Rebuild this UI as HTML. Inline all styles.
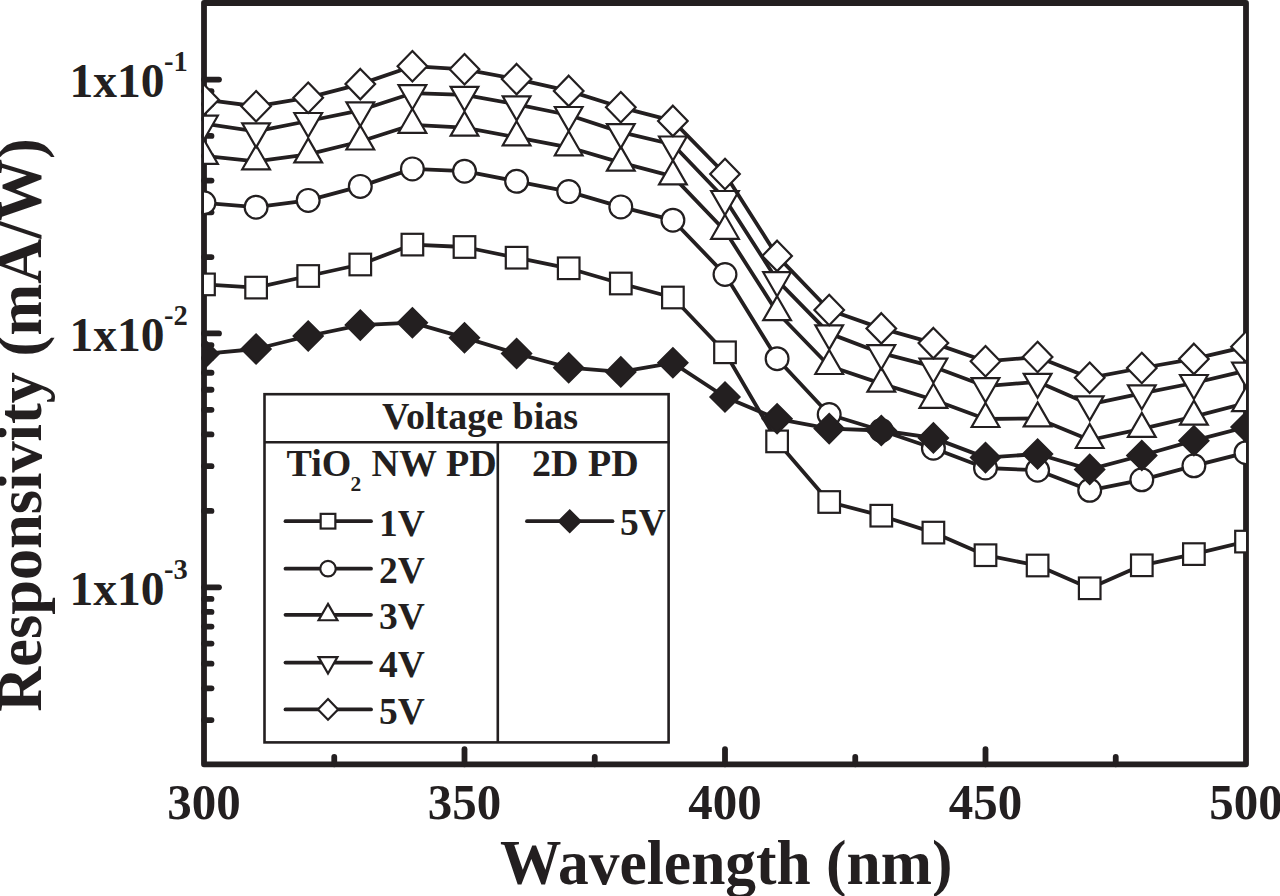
<!DOCTYPE html>
<html><head><meta charset="utf-8"><title>Responsivity</title>
<style>
html,body{margin:0;padding:0;background:#fff;}
body{width:1280px;height:896px;overflow:hidden;}
svg{display:block;}
text{font-family:"Liberation Serif",serif;font-weight:bold;fill:#231f20;}
.m{fill:#fff;stroke:#231f20;stroke-width:2.2;stroke-linejoin:miter;}
.mf{fill:#231f20;stroke:#231f20;stroke-width:2.2;stroke-linejoin:miter;}
.ln{fill:none;stroke:#231f20;stroke-width:3.8;stroke-linejoin:round;stroke-linecap:round;}
.ax{fill:none;stroke:#231f20;stroke-width:5.8;stroke-linecap:round;stroke-linejoin:round;}
.tk{stroke:#231f20;stroke-width:5.8;stroke-linecap:round;}
.lg{fill:none;stroke:#231f20;stroke-width:2.6;}
</style></head><body>
<svg width="1280" height="896" viewBox="0 0 1280 896">
<rect width="1280" height="896" fill="#fff"/>
<defs><clipPath id="pc"><rect x="204" y="3" width="1042" height="761.3"/></clipPath></defs>

<path d="M204 3 H1246 V764.3 H204 Z" class="ax"/>
<line x1="204" y1="79.6" x2="219" y2="79.6" class="tk"/>
<line x1="204" y1="333.45" x2="219" y2="333.45" class="tk"/>
<line x1="204" y1="587.3" x2="219" y2="587.3" class="tk"/>
<line x1="204" y1="257.03" x2="211.5" y2="257.03" class="tk"/>
<line x1="204" y1="212.33" x2="211.5" y2="212.33" class="tk"/>
<line x1="204" y1="180.62" x2="211.5" y2="180.62" class="tk"/>
<line x1="204" y1="156.02" x2="211.5" y2="156.02" class="tk"/>
<line x1="204" y1="135.92" x2="211.5" y2="135.92" class="tk"/>
<line x1="204" y1="118.92" x2="211.5" y2="118.92" class="tk"/>
<line x1="204" y1="104.2" x2="211.5" y2="104.2" class="tk"/>
<line x1="204" y1="91.22" x2="211.5" y2="91.22" class="tk"/>
<line x1="204" y1="510.88" x2="211.5" y2="510.88" class="tk"/>
<line x1="204" y1="466.18" x2="211.5" y2="466.18" class="tk"/>
<line x1="204" y1="434.47" x2="211.5" y2="434.47" class="tk"/>
<line x1="204" y1="409.87" x2="211.5" y2="409.87" class="tk"/>
<line x1="204" y1="389.77" x2="211.5" y2="389.77" class="tk"/>
<line x1="204" y1="372.77" x2="211.5" y2="372.77" class="tk"/>
<line x1="204" y1="358.05" x2="211.5" y2="358.05" class="tk"/>
<line x1="204" y1="345.07" x2="211.5" y2="345.07" class="tk"/>
<line x1="204" y1="720.03" x2="211.5" y2="720.03" class="tk"/>
<line x1="204" y1="688.32" x2="211.5" y2="688.32" class="tk"/>
<line x1="204" y1="663.72" x2="211.5" y2="663.72" class="tk"/>
<line x1="204" y1="643.62" x2="211.5" y2="643.62" class="tk"/>
<line x1="204" y1="626.62" x2="211.5" y2="626.62" class="tk"/>
<line x1="204" y1="611.9" x2="211.5" y2="611.9" class="tk"/>
<line x1="204" y1="598.92" x2="211.5" y2="598.92" class="tk"/>
<line x1="334.25" y1="764.3" x2="334.25" y2="756.8" class="tk"/>
<line x1="464.5" y1="764.3" x2="464.5" y2="749.2" class="tk"/>
<line x1="594.75" y1="764.3" x2="594.75" y2="756.8" class="tk"/>
<line x1="725" y1="764.3" x2="725" y2="749.2" class="tk"/>
<line x1="855.25" y1="764.3" x2="855.25" y2="756.8" class="tk"/>
<line x1="985.5" y1="764.3" x2="985.5" y2="749.2" class="tk"/>
<line x1="1115.75" y1="764.3" x2="1115.75" y2="756.8" class="tk"/>
<g clip-path="url(#pc)">
<polyline points="204,284.4 256.1,287.6 308.2,276 360.3,264.5 412.4,244.6 464.5,247 516.6,257.7 568.7,268.3 620.8,283.5 672.9,297.5 725,352.3 777.1,441.4 829.2,502 881.3,515.7 933.4,532.6 985.5,555.2 1037.6,565.5 1089.7,588.3 1141.8,565.3 1193.9,554.1 1246,541.6" class="ln"/>
<rect x="193.2" y="273.6" width="21.6" height="21.6" class="m"/><rect x="245.3" y="276.8" width="21.6" height="21.6" class="m"/><rect x="297.4" y="265.2" width="21.6" height="21.6" class="m"/><rect x="349.5" y="253.7" width="21.6" height="21.6" class="m"/><rect x="401.6" y="233.8" width="21.6" height="21.6" class="m"/><rect x="453.7" y="236.2" width="21.6" height="21.6" class="m"/><rect x="505.8" y="246.9" width="21.6" height="21.6" class="m"/><rect x="557.9" y="257.5" width="21.6" height="21.6" class="m"/><rect x="610" y="272.7" width="21.6" height="21.6" class="m"/><rect x="662.1" y="286.7" width="21.6" height="21.6" class="m"/><rect x="714.2" y="341.5" width="21.6" height="21.6" class="m"/><rect x="766.3" y="430.6" width="21.6" height="21.6" class="m"/><rect x="818.4" y="491.2" width="21.6" height="21.6" class="m"/><rect x="870.5" y="504.9" width="21.6" height="21.6" class="m"/><rect x="922.6" y="521.8" width="21.6" height="21.6" class="m"/><rect x="974.7" y="544.4" width="21.6" height="21.6" class="m"/><rect x="1026.8" y="554.7" width="21.6" height="21.6" class="m"/><rect x="1078.9" y="577.5" width="21.6" height="21.6" class="m"/><rect x="1131" y="554.5" width="21.6" height="21.6" class="m"/><rect x="1183.1" y="543.3" width="21.6" height="21.6" class="m"/><rect x="1235.2" y="530.8" width="21.6" height="21.6" class="m"/>
<polyline points="204,202.8 256.1,207.2 308.2,200.4 360.3,186.4 412.4,168.9 464.5,171.2 516.6,181.3 568.7,191.6 620.8,206.9 672.9,220.2 725,274.5 777.1,358.7 829.2,414.5 881.3,430.5 933.4,448.2 985.5,468 1037.6,470.2 1089.7,490.3 1141.8,479.8 1193.9,465.8 1246,452.7" class="ln"/>
<circle cx="204" cy="202.8" r="11.4" class="m"/><circle cx="256.1" cy="207.2" r="11.4" class="m"/><circle cx="308.2" cy="200.4" r="11.4" class="m"/><circle cx="360.3" cy="186.4" r="11.4" class="m"/><circle cx="412.4" cy="168.9" r="11.4" class="m"/><circle cx="464.5" cy="171.2" r="11.4" class="m"/><circle cx="516.6" cy="181.3" r="11.4" class="m"/><circle cx="568.7" cy="191.6" r="11.4" class="m"/><circle cx="620.8" cy="206.9" r="11.4" class="m"/><circle cx="672.9" cy="220.2" r="11.4" class="m"/><circle cx="725" cy="274.5" r="11.4" class="m"/><circle cx="777.1" cy="358.7" r="11.4" class="m"/><circle cx="829.2" cy="414.5" r="11.4" class="m"/><circle cx="881.3" cy="430.5" r="11.4" class="m"/><circle cx="933.4" cy="448.2" r="11.4" class="m"/><circle cx="985.5" cy="468" r="11.4" class="m"/><circle cx="1037.6" cy="470.2" r="11.4" class="m"/><circle cx="1089.7" cy="490.3" r="11.4" class="m"/><circle cx="1141.8" cy="479.8" r="11.4" class="m"/><circle cx="1193.9" cy="465.8" r="11.4" class="m"/><circle cx="1246" cy="452.7" r="11.4" class="m"/>
<polyline points="204,155.9 256.1,161.3 308.2,154.4 360.3,141.5 412.4,124.8 464.5,127.7 516.6,137.3 568.7,147.3 620.8,162.6 672.9,176.4 725,230.8 777.1,312.2 829.2,366 881.3,383.6 933.4,399.8 985.5,419 1037.6,418.4 1089.7,440 1141.8,428.9 1193.9,416.6 1246,403.1" class="ln"/>
<polygon points="204,139.9 217.86,163.9 190.14,163.9" class="m"/><polygon points="256.1,145.3 269.96,169.3 242.24,169.3" class="m"/><polygon points="308.2,138.4 322.06,162.4 294.34,162.4" class="m"/><polygon points="360.3,125.5 374.16,149.5 346.44,149.5" class="m"/><polygon points="412.4,108.8 426.26,132.8 398.54,132.8" class="m"/><polygon points="464.5,111.7 478.36,135.7 450.64,135.7" class="m"/><polygon points="516.6,121.3 530.46,145.3 502.74,145.3" class="m"/><polygon points="568.7,131.3 582.56,155.3 554.84,155.3" class="m"/><polygon points="620.8,146.6 634.66,170.6 606.94,170.6" class="m"/><polygon points="672.9,160.4 686.76,184.4 659.04,184.4" class="m"/><polygon points="725,214.8 738.86,238.8 711.14,238.8" class="m"/><polygon points="777.1,296.2 790.96,320.2 763.24,320.2" class="m"/><polygon points="829.2,350 843.06,374 815.34,374" class="m"/><polygon points="881.3,367.6 895.16,391.6 867.44,391.6" class="m"/><polygon points="933.4,383.8 947.26,407.8 919.54,407.8" class="m"/><polygon points="985.5,403 999.36,427 971.64,427" class="m"/><polygon points="1037.6,402.4 1051.46,426.4 1023.74,426.4" class="m"/><polygon points="1089.7,424 1103.56,448 1075.84,448" class="m"/><polygon points="1141.8,412.9 1155.66,436.9 1127.94,436.9" class="m"/><polygon points="1193.9,400.6 1207.76,424.6 1180.04,424.6" class="m"/><polygon points="1246,387.1 1259.86,411.1 1232.14,411.1" class="m"/>
<polyline points="204,123.7 256.1,131.4 308.2,121 360.3,110.3 412.4,93.2 464.5,94.8 516.6,104.4 568.7,115 620.8,132.1 672.9,144.5 725,199 777.1,280.2 829.2,333.4 881.3,353.2 933.4,366.7 985.5,386.2 1037.6,381.8 1089.7,404.4 1141.8,393.3 1193.9,383 1246,370.7" class="ln"/>
<polygon points="204,139.7 217.86,115.7 190.14,115.7" class="m"/><polygon points="256.1,147.4 269.96,123.4 242.24,123.4" class="m"/><polygon points="308.2,137 322.06,113 294.34,113" class="m"/><polygon points="360.3,126.3 374.16,102.3 346.44,102.3" class="m"/><polygon points="412.4,109.2 426.26,85.2 398.54,85.2" class="m"/><polygon points="464.5,110.8 478.36,86.8 450.64,86.8" class="m"/><polygon points="516.6,120.4 530.46,96.4 502.74,96.4" class="m"/><polygon points="568.7,131 582.56,107 554.84,107" class="m"/><polygon points="620.8,148.1 634.66,124.1 606.94,124.1" class="m"/><polygon points="672.9,160.5 686.76,136.5 659.04,136.5" class="m"/><polygon points="725,215 738.86,191 711.14,191" class="m"/><polygon points="777.1,296.2 790.96,272.2 763.24,272.2" class="m"/><polygon points="829.2,349.4 843.06,325.4 815.34,325.4" class="m"/><polygon points="881.3,369.2 895.16,345.2 867.44,345.2" class="m"/><polygon points="933.4,382.7 947.26,358.7 919.54,358.7" class="m"/><polygon points="985.5,402.2 999.36,378.2 971.64,378.2" class="m"/><polygon points="1037.6,397.8 1051.46,373.8 1023.74,373.8" class="m"/><polygon points="1089.7,420.4 1103.56,396.4 1075.84,396.4" class="m"/><polygon points="1141.8,409.3 1155.66,385.3 1127.94,385.3" class="m"/><polygon points="1193.9,399 1207.76,375 1180.04,375" class="m"/><polygon points="1246,386.7 1259.86,362.7 1232.14,362.7" class="m"/>
<polyline points="204,99.7 256.1,106.3 308.2,97.7 360.3,84.1 412.4,66.2 464.5,69.3 516.6,79.1 568.7,90.9 620.8,107.3 672.9,120.9 725,174 777.1,255.9 829.2,310 881.3,328.4 933.4,343.1 985.5,361.3 1037.6,357 1089.7,377.8 1141.8,368 1193.9,358.9 1246,346.7" class="ln"/>
<polygon points="204,84.5 218.8,99.7 204,114.9 189.2,99.7" class="m"/><polygon points="256.1,91.1 270.9,106.3 256.1,121.5 241.3,106.3" class="m"/><polygon points="308.2,82.5 323,97.7 308.2,112.9 293.4,97.7" class="m"/><polygon points="360.3,68.9 375.1,84.1 360.3,99.3 345.5,84.1" class="m"/><polygon points="412.4,51 427.2,66.2 412.4,81.4 397.6,66.2" class="m"/><polygon points="464.5,54.1 479.3,69.3 464.5,84.5 449.7,69.3" class="m"/><polygon points="516.6,63.9 531.4,79.1 516.6,94.3 501.8,79.1" class="m"/><polygon points="568.7,75.7 583.5,90.9 568.7,106.1 553.9,90.9" class="m"/><polygon points="620.8,92.1 635.6,107.3 620.8,122.5 606,107.3" class="m"/><polygon points="672.9,105.7 687.7,120.9 672.9,136.1 658.1,120.9" class="m"/><polygon points="725,158.8 739.8,174 725,189.2 710.2,174" class="m"/><polygon points="777.1,240.7 791.9,255.9 777.1,271.1 762.3,255.9" class="m"/><polygon points="829.2,294.8 844,310 829.2,325.2 814.4,310" class="m"/><polygon points="881.3,313.2 896.1,328.4 881.3,343.6 866.5,328.4" class="m"/><polygon points="933.4,327.9 948.2,343.1 933.4,358.3 918.6,343.1" class="m"/><polygon points="985.5,346.1 1000.3,361.3 985.5,376.5 970.7,361.3" class="m"/><polygon points="1037.6,341.8 1052.4,357 1037.6,372.2 1022.8,357" class="m"/><polygon points="1089.7,362.6 1104.5,377.8 1089.7,393 1074.9,377.8" class="m"/><polygon points="1141.8,352.8 1156.6,368 1141.8,383.2 1127,368" class="m"/><polygon points="1193.9,343.7 1208.7,358.9 1193.9,374.1 1179.1,358.9" class="m"/><polygon points="1246,331.5 1260.8,346.7 1246,361.9 1231.2,346.7" class="m"/>
<polyline points="204,353.9 256.1,349 308.2,336 360.3,325.1 412.4,322.7 464.5,337.7 516.6,353.5 568.7,367.7 620.8,371.9 672.9,362.8 725,397 777.1,418.8 829.2,428.6 881.3,430.5 933.4,437.9 985.5,457.6 1037.6,454 1089.7,469.4 1141.8,455.5 1193.9,440.7 1246,427" class="ln"/>
<polygon points="204,339.4 218.5,353.9 204,368.4 189.5,353.9" class="mf"/><polygon points="256.1,334.5 270.6,349 256.1,363.5 241.6,349" class="mf"/><polygon points="308.2,321.5 322.7,336 308.2,350.5 293.7,336" class="mf"/><polygon points="360.3,310.6 374.8,325.1 360.3,339.6 345.8,325.1" class="mf"/><polygon points="412.4,308.2 426.9,322.7 412.4,337.2 397.9,322.7" class="mf"/><polygon points="464.5,323.2 479,337.7 464.5,352.2 450,337.7" class="mf"/><polygon points="516.6,339 531.1,353.5 516.6,368 502.1,353.5" class="mf"/><polygon points="568.7,353.2 583.2,367.7 568.7,382.2 554.2,367.7" class="mf"/><polygon points="620.8,357.4 635.3,371.9 620.8,386.4 606.3,371.9" class="mf"/><polygon points="672.9,348.3 687.4,362.8 672.9,377.3 658.4,362.8" class="mf"/><polygon points="725,382.5 739.5,397 725,411.5 710.5,397" class="mf"/><polygon points="777.1,404.3 791.6,418.8 777.1,433.3 762.6,418.8" class="mf"/><polygon points="829.2,414.1 843.7,428.6 829.2,443.1 814.7,428.6" class="mf"/><polygon points="881.3,416 895.8,430.5 881.3,445 866.8,430.5" class="mf"/><polygon points="933.4,423.4 947.9,437.9 933.4,452.4 918.9,437.9" class="mf"/><polygon points="985.5,443.1 1000,457.6 985.5,472.1 971,457.6" class="mf"/><polygon points="1037.6,439.5 1052.1,454 1037.6,468.5 1023.1,454" class="mf"/><polygon points="1089.7,454.9 1104.2,469.4 1089.7,483.9 1075.2,469.4" class="mf"/><polygon points="1141.8,441 1156.3,455.5 1141.8,470 1127.3,455.5" class="mf"/><polygon points="1193.9,426.2 1208.4,440.7 1193.9,455.2 1179.4,440.7" class="mf"/><polygon points="1246,412.5 1260.5,427 1246,441.5 1231.5,427" class="mf"/>
</g>
<text transform="translate(204,818.6) scale(0.97,1)" font-size="50.5" text-anchor="middle">300</text>
<text transform="translate(464.5,818.6) scale(0.97,1)" font-size="50.5" text-anchor="middle">350</text>
<text transform="translate(725,818.6) scale(0.97,1)" font-size="50.5" text-anchor="middle">400</text>
<text transform="translate(985.5,818.6) scale(0.97,1)" font-size="50.5" text-anchor="middle">450</text>
<text transform="translate(1246,818.6) scale(0.97,1)" font-size="50.5" text-anchor="middle">500</text>
<text x="69.5" y="97.1" font-size="47.5"><tspan>1x10</tspan><tspan font-size="28.5" dy="-25.7" dx="-0.5">-1</tspan></text>
<text x="69.5" y="350.95" font-size="47.5"><tspan>1x10</tspan><tspan font-size="28.5" dy="-25.7" dx="-0.5">-2</tspan></text>
<text x="69.5" y="604.8" font-size="47.5"><tspan>1x10</tspan><tspan font-size="28.5" dy="-25.7" dx="-0.5">-3</tspan></text>
<text transform="translate(726.2,883.6) scale(0.97,1)" font-size="63.4" text-anchor="middle">Wavelength (nm)</text>
<text transform="translate(41.4,425) rotate(-90)" x="0" y="0" font-size="62.4" text-anchor="middle">Responsivity (mA/W)</text>
<rect x="264.5" y="394.2" width="404.1" height="348.2" fill="#fff" class="lg"/>
<line x1="264.5" y1="442.2" x2="669.6" y2="442.2" class="lg"/>
<line x1="497.8" y1="442.2" x2="497.8" y2="742.4" class="lg"/>
<text x="382" y="428.8" font-size="38">Voltage bias</text>
<text x="286.5" y="476" font-size="38">TiO</text>
<text x="350.5" y="490.8" font-size="21.5">2</text>
<text x="371.5" y="476" font-size="38">NW</text>
<text x="446" y="476" font-size="38">PD</text>
<text x="532" y="476" font-size="38">2D PD</text>
<line x1="285.5" y1="521.2" x2="371" y2="521.2" class="ln" style="stroke-linecap:round"/>
<rect x="320.66" y="513.86" width="14.69" height="14.69" class="m"/>
<text x="379" y="535.6" font-size="37.5">1V</text>
<line x1="285.5" y1="568.7" x2="371" y2="568.7" class="ln" style="stroke-linecap:round"/>
<circle cx="328" cy="568.7" r="7.75" class="m"/>
<text x="379" y="583.1" font-size="37.5">2V</text>
<line x1="285.5" y1="614.8" x2="371" y2="614.8" class="ln" style="stroke-linecap:round"/>
<polygon points="328,603.92 337.42,620.24 318.58,620.24" class="m"/>
<text x="379" y="629.2" font-size="37.5">3V</text>
<line x1="285.5" y1="662.6" x2="371" y2="662.6" class="ln" style="stroke-linecap:round"/>
<polygon points="328,673.48 337.42,657.16 318.58,657.16" class="m"/>
<text x="379" y="677" font-size="37.5">4V</text>
<line x1="285.5" y1="709.4" x2="371" y2="709.4" class="ln" style="stroke-linecap:round"/>
<polygon points="328,699.06 338.06,709.4 328,719.74 317.94,709.4" class="m"/>
<text x="379" y="723.8" font-size="37.5">5V</text>
<line x1="527" y1="521.2" x2="612.5" y2="521.2" class="ln"/>
<polygon points="569.7,510.47 580.43,521.2 569.7,531.93 558.97,521.2" class="mf"/>
<text x="620" y="535.2" font-size="37.5">5V</text>
</svg>
</body></html>
